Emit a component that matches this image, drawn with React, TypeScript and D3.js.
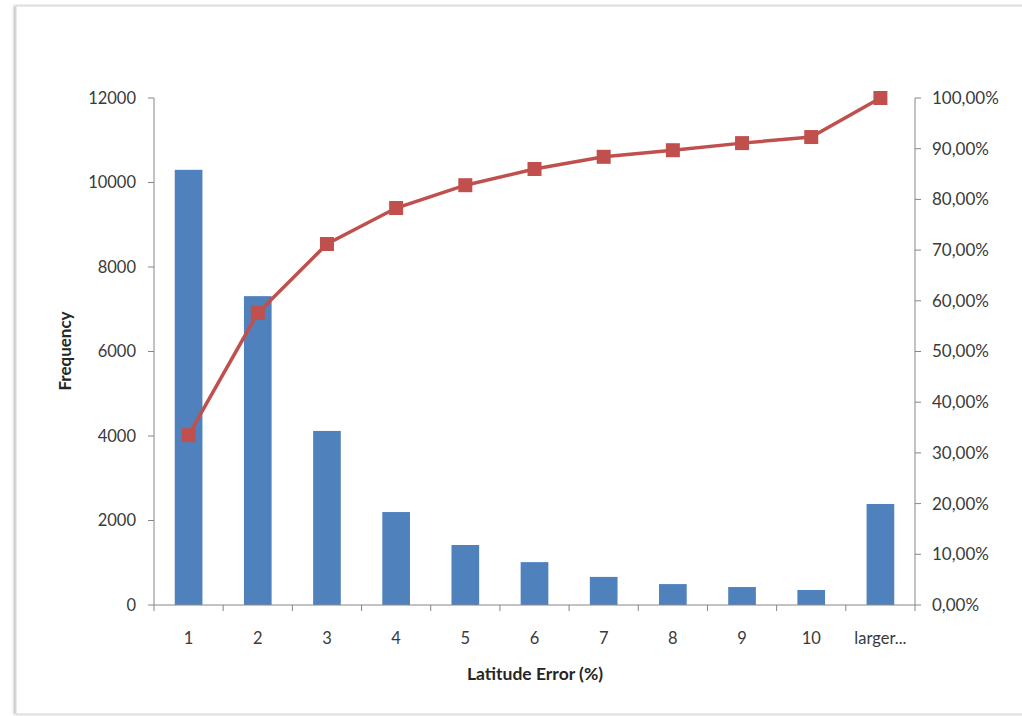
import React from "react";
import * as d3 from "d3";

const categories = ["1", "2", "3", "4", "5", "6", "7", "8", "9", "10", "larger..."];
const frequency = [10300, 7310, 4120, 2200, 1420, 1015, 665, 495, 425, 355, 2390];
const cumulativePct = [33.5, 57.6, 71.2, 78.3, 82.8, 86.0, 88.4, 89.7, 91.1, 92.3, 100];
const leftTicks = [0, 2000, 4000, 6000, 8000, 10000, 12000];
const rightTicks = [0, 10, 20, 30, 40, 50, 60, 70, 80, 90, 100];

export default function App() {
  const W = 1022, H = 716;
  const left = 154, right = 915, top = 98, bottom = 605;
  const x = d3.scaleBand<string>().domain(categories).range([left, right]).paddingInner(0).paddingOuter(0);
  const yL = d3.scaleLinear().domain([0, 12000]).range([bottom, top]);
  const yR = d3.scaleLinear().domain([0, 100]).range([bottom, top]);
  const bw = x.bandwidth() * 0.4;
  const cx = (c: string) => (x(c) as number) + x.bandwidth() / 2;
  const line = d3.line<number>().x((_, i) => cx(categories[i])).y((d) => yR(d));
  const axisColor = "#868686";
  const textColor = "#3a3a3a";
  const font = "Lato, 'Open Sans', sans-serif";
  const fmtPct = (v: number) => v.toFixed(2).replace(".", ",") + "%";
  const boundaries = categories.map((c) => x(c) as number).concat([right]);

  return (
    <svg width={W} height={H} style={{ position: "absolute", left: 0, top: 0, background: "#fff" }} fontFamily={font}>
      <defs>
        <filter id="sh" x="-5%" y="-5%" width="110%" height="110%">
          <feDropShadow dx="-1.5" dy="0" stdDeviation="1.2" floodColor="#000" floodOpacity="0.3" />
        </filter>
      </defs>
      <rect x={0} y={0} width={W} height={H} fill="#fff" />
      <rect x={16} y={6} width={W} height={708} fill="#fff" stroke="#d6d6d6" strokeWidth={1} filter="url(#sh)" />

      {frequency.map((v, i) => (
        <rect key={i} x={cx(categories[i]) - bw / 2} y={yL(v)} width={bw} height={bottom - yL(v)} fill="#4F81BD" />
      ))}

      {/* left axis */}
      <line x1={left} x2={left} y1={top} y2={bottom} stroke={axisColor} />
      {leftTicks.map((t) => (
        <g key={t}>
          <line x1={left - 6} x2={left} y1={yL(t)} y2={yL(t)} stroke={axisColor} />
          <text x={left - 18} y={yL(t)} dy="0.35em" textAnchor="end" fontSize={16.5} fill={textColor}>{t}</text>
        </g>
      ))}
      {/* right axis */}
      <line x1={right} x2={right} y1={top} y2={bottom} stroke={axisColor} />
      {rightTicks.map((t) => (
        <g key={t}>
          <line x1={right} x2={right + 6} y1={yR(t)} y2={yR(t)} stroke={axisColor} />
          <text x={right + 17} y={yR(t)} dy="0.35em" textAnchor="start" fontSize={17} fill={textColor}>{fmtPct(t)}</text>
        </g>
      ))}
      {/* x axis */}
      <line x1={left} x2={right} y1={bottom} y2={bottom} stroke={axisColor} />
      {boundaries.map((b, i) => (
        <line key={i} x1={b} x2={b} y1={bottom} y2={bottom + 6} stroke={axisColor} />
      ))}
      {categories.map((c) => (
        <text key={c} x={cx(c)} y={644} textAnchor="middle" fontSize={16.5} fill={textColor}>{c}</text>
      ))}

      <path d={line(cumulativePct) || ""} fill="none" stroke="#C0504D" strokeWidth={3.5} />
      {cumulativePct.map((v, i) => (
        <rect key={i} x={cx(categories[i]) - 7} y={yR(v) - 7} width={14} height={14} fill="#C0504D" />
      ))}

      <text x={535} y={680} textAnchor="middle" fontSize={17.5} fontWeight="bold" fill="#262626">Latitude Error (%)</text>
      <text transform="translate(71,351) rotate(-90)" textAnchor="middle" fontSize={17} fontWeight="bold" fill="#262626">Frequency</text>
    </svg>
  );
}
